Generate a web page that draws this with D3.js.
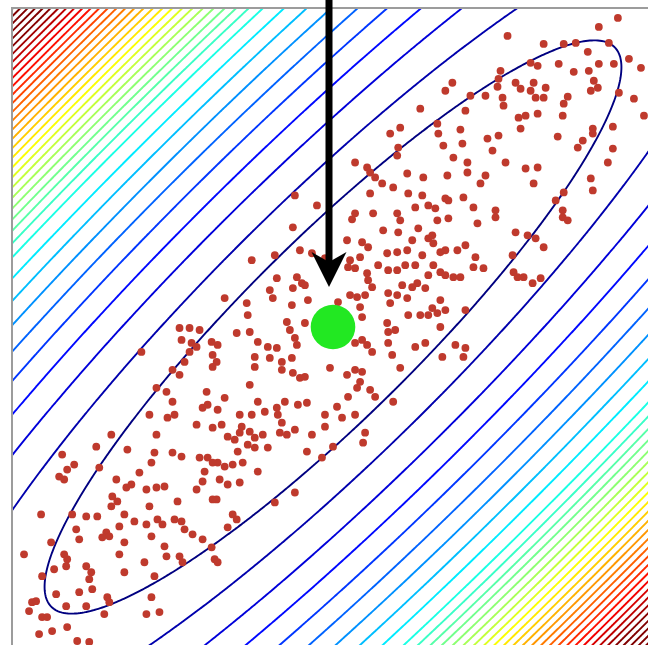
<!DOCTYPE html>
<html>
<head>
<meta charset="utf-8">
<script src="https://cdn.jsdelivr.net/npm/d3@7"></script>
<style>
  html, body { margin: 0; padding: 0; background: #fff; overflow: hidden; }
  svg { display: block; }
</style>
</head>
<body>
<svg id="chart" width="648" height="645"></svg>
<script>
// ---- data -------------------------------------------------------------
const domainX = [-32, 32];
const domainY = [-32, 32];
const mean = [0, 0];
// semi-axes of the unit-level ellipse (major, minor) and its tilt in degrees
const axisLengths = [39.7, 8.8];
const axisAngle = 45;
// contour levels of the quadratic form; finer steps further out
const contourLevels = [
  1, 2, 3, 4, 5, 6, 7, 8, 9, 10,
  10.7, 11.35, 11.95, 12.55, 13.15, 13.75, 14.35, 14.95, 15.55, 16.15,
  16.75, 17.35, 17.95, 18.55, 19.15, 19.75, 20.35, 20.95, 21.55, 22.15,
  22.75, 23.35, 23.95, 24.55, 25.15, 25.75, 26.35, 26.95, 27.55
];
// level values at the two ends of the colour ramp
const colorLevelRange = [1, 23.5];

const samples = [
  [28.4, 31.0], [26.5, 30.1], [17.4, 29.2], [21.0, 28.4], [23.0, 28.4], [24.2, 28.5], [27.5, 28.5], [25.4, 27.6],
  [29.5, 26.9], [30.7, 26.0], [28.0, 26.4], [26.5, 26.4], [22.5, 26.4], [19.7, 26.5], [20.4, 26.2], [16.7, 25.7],
  [16.5, 24.9], [16.4, 24.1], [24.0, 25.6], [25.5, 25.7], [11.9, 24.5], [11.2, 23.7], [13.7, 23.2], [15.2, 23.2],
  [18.2, 24.5], [18.7, 23.9], [20.0, 24.5], [21.2, 24.0], [19.7, 23.7], [20.2, 23.0], [21.0, 23.0], [16.9, 23.0],
  [17.0, 22.2], [26.0, 24.7], [26.4, 24.0], [25.7, 23.7], [28.5, 23.5], [30.0, 22.9], [23.4, 23.1], [23.0, 22.4],
  [22.9, 21.2], [20.4, 21.4], [18.5, 21.0], [19.2, 21.2], [13.2, 21.7], [31.0, 21.2], [10.4, 20.4], [10.5, 19.4],
  [12.7, 19.8], [15.4, 18.9], [16.5, 19.2], [18.7, 19.9], [22.4, 19.1], [24.4, 18.0], [24.9, 18.7], [25.9, 19.9],
  [25.9, 19.4], [27.9, 20.1], [27.9, 17.9], [27.4, 16.5], [11.0, 18.2], [12.9, 18.4], [12.0, 17.0], [13.4, 16.5],
  [15.9, 17.7], [17.2, 16.5], [19.2, 15.9], [20.4, 16.0], [11.4, 15.2], [13.4, 15.5], [15.2, 15.2], [14.7, 14.4],
  [20.0, 14.4], [25.7, 14.9], [25.9, 13.7], [23.0, 13.5], [22.2, 12.7], [22.9, 11.7], [11.2, 12.9], [13.0, 13.0],
  [11.5, 12.7], [14.0, 12.0], [16.2, 11.7], [10.2, 11.9],
  [8.7, 21.9], [6.7, 20.0], [5.7, 19.4], [6.5, 18.0], [6.4, 17.2], [2.2, 16.5], [3.4, 16.0], [3.7, 15.5],
  [4.2, 15.0], [4.9, 14.4], [6.0, 14.0], [7.4, 15.4], [9.0, 15.0], [7.5, 13.4], [8.9, 13.2], [8.2, 12.0],
  [9.5, 12.2], [3.7, 13.4], [2.2, 11.4], [4.0, 11.4], [6.4, 11.4], [-3.8, 13.2], [-1.6, 12.2],
  [-4.0, 10.0], [1.9, 10.8], [6.7, 10.7], [5.0, 9.7], [6.5, 9.5], [8.5, 9.9], [9.5, 8.9], [1.4, 8.7],
  [2.9, 8.5], [3.5, 8.0], [5.4, 7.4], [6.4, 7.5], [7.9, 8.7], [7.4, 7.7], [8.9, 7.2], [-8.1, 6.7],
  [-5.8, 7.2], [-3.3, 7.7], [-2.1, 7.4], [-0.8, 6.9], [1.7, 6.7], [2.7, 7.0], [1.5, 6.0], [2.2, 5.9],
  [3.4, 5.4], [3.5, 4.7], [4.5, 6.2], [5.5, 5.7], [6.4, 5.7], [7.2, 6.2], [8.2, 6.2], [9.5, 5.2],
  [8.4, 4.4], [-5.6, 4.9], [-3.6, 5.0], [-3.1, 4.4], [-4.0, 3.9], [-2.8, 4.2], [-6.3, 3.7], [-6.0, 2.9],
  [1.7, 3.2], [2.4, 3.0], [3.2, 3.2], [3.9, 4.0], [5.5, 3.4], [5.7, 2.4], [6.4, 3.2], [6.9, 4.2],
  [7.9, 4.0], [9.2, 3.9], [7.4, 2.9], [-10.8, 2.9], [-8.6, 2.4], [-4.1, 2.2], [-2.5, 2.7], [0.5, 2.5],
  [2.7, 2.0], [-8.5, 1.2], [-9.6, -0.6], [-8.3, -0.5], [-4.6, 0.5], [-4.3, -0.3], [-2.8, 0.4], [2.9, 1.0],
  [5.4, 0.4], [5.5, -0.5], [6.2, -0.3], [7.5, 1.2], [8.7, 1.2], [9.5, 1.2], [-11.5, -1.8], [-7.5, -1.5],
  [-3.8, -1.1], [-6.5, -2.0], [-5.6, -2.1], [-3.6, -1.8], [2.2, -1.6], [3.4, -1.8], [3.9, -2.5], [2.9, -1.3],
  [5.5, -1.6], [5.9, -2.8], [8.2, -2.0], [9.2, -1.6], [-11.6, -3.5], [-7.8, -3.0], [-6.3, -3.1], [-5.1, -3.5],
  [-7.8, -4.0], [-5.1, -4.3], [-4.1, -3.1], [-4.0, -4.6], [-3.3, -5.1], [-2.8, -5.0], [-0.3, -4.1], [1.4, -4.8],
  [2.2, -4.3], [2.9, -4.5], [2.7, -5.5], [2.4, -6.1], [3.7, -6.3], [6.7, -4.1], [-8.3, -5.8], [-10.8, -7.1],
  [-7.5, -7.5], [-9.3, -8.8], [-8.1, -8.8], [-6.8, -8.5], [-5.6, -8.1], [-4.8, -7.5], [-3.5, -7.8], [-2.6, -7.6],
  [-5.5, -8.8], [-5.1, -9.6], [-0.8, -8.8], [0.4, -8.0], [1.5, -7.0], [0.9, -9.1], [2.2, -8.8], [6.0, -7.5],
  [4.2, -7.0], [-11.5, -8.3], [-11.1, -9.8], [-9.1, -10.0], [-0.8, -10.0],
  [-10.5, -11.0], [-9.8, -11.3], [-9.3, -10.6], [-8.3, -10.5], [-7.8, -11.1], [-7.0, -10.8], [-5.3, -10.6], [-4.6, -10.8],
  [-3.8, -10.3], [-2.1, -10.8], [-6.5, -12.1], [-8.5, -11.8], [-9.5, -12.5], [-7.8, -12.1], [-2.6, -12.5], [-1.1, -13.1],
  [0.0, -12.0], [3.2, -10.6], [3.0, -11.6], [-11.5, -13.6], [-10.8, -14.0], [-10.0, -13.8], [-9.0, -13.6], [-7.5, -14.5],
  [-11.3, -15.3], [-10.5, -15.8], [-9.3, -15.6], [-11.6, -17.3], [-5.8, -17.6], [-3.8, -16.6], [-10.0, -18.8], [-9.6, -19.3],
  [-10.5, -20.1], [-11.8, -23.3], [-11.5, -23.6],
  [10.4, 10.7], [11.5, 10.9], [14.4, 10.4], [16.2, 11.0], [22.9, 11.0], [23.4, 10.7], [9.9, 9.2], [10.0, 8.4],
  [10.7, 7.5], [11.2, 7.7], [12.4, 7.7], [13.2, 8.2], [18.2, 9.5], [19.4, 9.2], [20.2, 8.9], [21.0, 8.0],
  [17.9, 7.2], [14.2, 7.0], [14.0, 6.0], [15.0, 5.9], [10.0, 6.2], [10.7, 5.5], [11.2, 5.2], [12.0, 5.0],
  [12.7, 5.0], [18.0, 5.5], [18.4, 5.0], [19.0, 5.0], [19.9, 4.4], [20.7, 4.9], [10.7, 2.7], [9.9, 1.9],
  [10.4, 1.4], [11.2, 1.7], [13.2, 1.7], [10.7, 0.0], [12.2, -1.8], [13.2, -2.1], [13.0, -3.0], [10.9, -3.0],
  [-19.1, -2.5], [-15.3, -0.1], [-14.3, -0.1], [-13.3, -0.3], [-15.1, -1.3], [-14.1, -1.6], [-13.6, -2.0], [-14.3, -2.5],
  [-14.8, -3.5], [-12.1, -1.5], [-12.0, -2.8], [-16.0, -4.3], [-15.3, -4.8], [-12.0, -4.0], [-17.6, -6.1], [-16.6, -6.5],
  [-16.0, -7.5], [-18.3, -8.8], [-16.5, -9.1], [-15.8, -8.8], [-13.0, -8.1], [-12.5, -7.8], [-13.6, -9.8], [-12.0, -10.1],
  [-12.6, -6.5],
  [-22.1, -10.8], [-17.6, -10.8], [-23.6, -12.0], [-20.5, -12.3], [-27.0, -12.8], [-25.8, -13.8], [-26.5, -14.3], [-27.3, -15.0],
  [-26.8, -15.3], [-23.3, -14.1], [-17.8, -12.6], [-16.0, -12.6], [-15.1, -13.0], [-18.1, -13.6], [-19.3, -14.6], [-21.6, -15.3],
  [-20.6, -16.1], [-20.1, -15.8], [-18.6, -16.3], [-17.6, -16.1], [-16.8, -16.0], [-22.0, -17.0], [-21.5, -17.5], [-22.1, -18.0],
  [-18.3, -18.0], [-15.5, -17.5], [-12.0, -17.3], [-13.6, -16.3], [-13.0, -15.5], [-12.8, -14.5], [-12.0, -13.6], [-12.5, -13.1],
  [-13.3, -13.1], [-29.1, -18.8], [-26.0, -18.8], [-24.6, -19.0], [-23.5, -19.0], [-20.8, -18.8], [-19.8, -19.5], [-18.6, -19.8],
  [-17.5, -19.3], [-17.0, -19.8], [-15.8, -19.3], [-15.1, -19.5], [-14.8, -20.3], [-14.0, -20.8], [-13.0, -21.3], [-12.1, -22.1],
  [-22.6, -20.6], [-22.3, -21.0], [-23.0, -21.1], [-25.6, -20.3], [-25.3, -21.3], [-28.1, -21.6], [-21.3, -20.0], [-20.8, -21.6],
  [-18.1, -21.0], [-16.8, -22.0], [-16.6, -23.0], [-15.3, -23.0], [-15.0, -23.6], [-21.3, -22.8], [-18.8, -23.6], [-17.8, -25.0],
  [-30.8, -22.8], [-26.8, -22.8], [-26.5, -23.3], [-26.6, -24.0], [-29.0, -25.0], [-27.8, -24.3], [-24.6, -24.0], [-24.1, -24.6],
  [-24.3, -25.3], [-24.0, -26.3], [-20.8, -24.6], [-27.6, -26.8], [-25.3, -26.6], [-24.6, -28.0], [-22.5, -27.1], [-22.3, -27.6],
  [-22.8, -28.8], [-18.1, -27.1], [-18.6, -28.8], [-17.3, -28.6], [-30.0, -27.6], [-29.6, -27.5], [-30.3, -28.5], [-29.0, -29.1],
  [-28.5, -29.1], [-26.6, -28.0], [-29.3, -30.8], [-28.0, -30.5], [-26.5, -30.1], [-25.5, -31.5], [-24.3, -31.6]
];

// ---- layout -----------------------------------------------------------
const svg = d3.select("#chart");
const x = d3.scaleLinear().domain(domainX).range([12, 654]);
const y = d3.scaleLinear().domain(domainY).range([646, 8]);

// jet colour ramp for the contour levels
function jet(t) {
  const c = v => Math.round(255 * Math.max(0, Math.min(1, v)));
  return `rgb(${c(1.5 - Math.abs(4 * t - 3))},${c(1.5 - Math.abs(4 * t - 2))},${c(1.5 - Math.abs(4 * t - 1))})`;
}
const color = d3.scaleSequential(jet).domain(colorLevelRange).clamp(true);

svg.append("defs").append("clipPath").attr("id", "plot-clip")
  .append("rect")
  .attr("x", x(domainX[0])).attr("y", y(domainY[1]))
  .attr("width", x(domainX[1]) - x(domainX[0]))
  .attr("height", y(domainY[0]) - y(domainY[1]));

// ---- quadratic form sampled on a grid ----------------------------------
const theta = axisAngle * Math.PI / 180;
const [semiMajor, semiMinor] = axisLengths;
function level(px, py) {
  const dx = px - mean[0], dy = py - mean[1];
  const u = dx * Math.cos(theta) + dy * Math.sin(theta);
  const v = -dx * Math.sin(theta) + dy * Math.cos(theta);
  return (u / semiMajor) ** 2 + (v / semiMinor) ** 2;
}
const step = 0.2;
const g0 = -36;
const n = Math.round(72 / step) + 1;
const grid = new Float64Array(n * n);
for (let j = 0; j < n; j++) {
  for (let i = 0; i < n; i++) {
    grid[j * n + i] = level(g0 + i * step, g0 + j * step);
  }
}
const contours = d3.contours().size([n, n]).thresholds(contourLevels)(grid);
const toScreen = d3.geoTransform({
  point(gx, gy) {
    this.stream.point(x(g0 + (gx - 0.5) * step), y(g0 + (gy - 0.5) * step));
  }
});
const path = d3.geoPath(toScreen);

svg.append("g").attr("clip-path", "url(#plot-clip)")
  .selectAll("path")
  .data(contours)
  .join("path")
  .attr("d", path)
  .attr("fill", "none")
  .attr("stroke", d => color(d.value))
  .attr("stroke-width", 1.9)
  .attr("stroke-linejoin", "round");

// plot frame
svg.append("rect")
  .attr("x", x(domainX[0])).attr("y", y(domainY[1]))
  .attr("width", x(domainX[1]) - x(domainX[0]))
  .attr("height", y(domainY[0]) - y(domainY[1]))
  .attr("fill", "none")
  .attr("stroke", "#9c9c9c")
  .attr("stroke-width", 2);

// samples
svg.append("g")
  .selectAll("circle")
  .data(samples)
  .join("circle")
  .attr("cx", d => x(d[0]))
  .attr("cy", d => y(d[1]))
  .attr("r", 3.9)
  .attr("fill", "#bf3a2d");

// mean marker
svg.append("circle")
  .attr("cx", x(mean[0]))
  .attr("cy", y(mean[1]))
  .attr("r", 22.3)
  .attr("fill", "#22e822");

// arrow pointing down at the mean
const ax = x(mean[0]) - 4;
const tipY = y(mean[1]) - 40;
const headLen = 35, headHalf = 17.5, notch = 10;
svg.append("line")
  .attr("x1", ax).attr("x2", ax)
  .attr("y1", 0).attr("y2", tipY - headLen + notch + 2)
  .attr("stroke", "#000")
  .attr("stroke-width", 7);
svg.append("path")
  .attr("d", `M${ax},${tipY} L${ax - headHalf},${tipY - headLen} L${ax},${tipY - headLen + notch} L${ax + headHalf},${tipY - headLen} Z`)
  .attr("fill", "#000");
</script>
</body>
</html>
